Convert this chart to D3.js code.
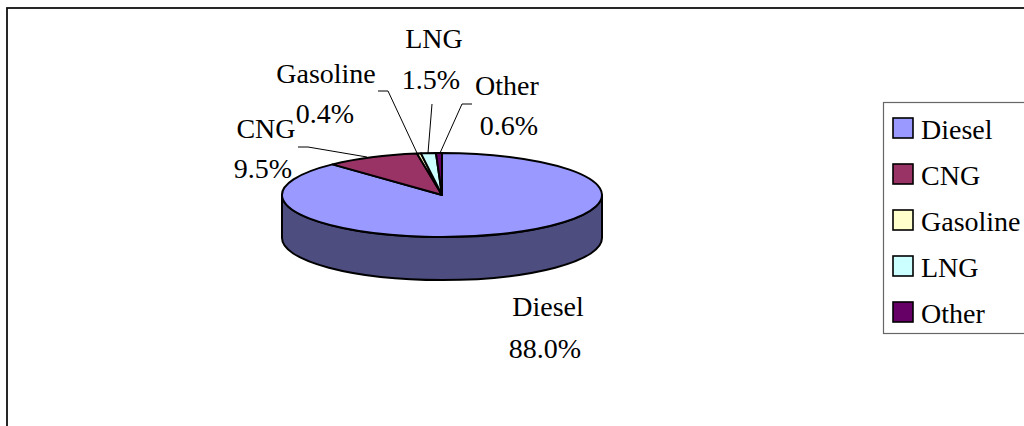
<!DOCTYPE html>
<html><head><meta charset="utf-8">
<script src="https://cdn.jsdelivr.net/npm/d3@7"></script>
<style>html,body{margin:0;padding:0;background:#fff}svg{display:block}text{font-family:"Liberation Serif";fill:#000}</style>
</head><body><svg id="c" width="1024" height="426"></svg>
<script>
const categories=["Diesel","CNG","Gasoline","LNG","Other"];
const values=[88.0,9.5,0.4,1.5,0.6];
const valueLabels=["88.0%","9.5%","0.4%","1.5%","0.6%"];
const colors=["#9999ff","#993366","#ffffcc","#ccffff","#660066"];
const sideColor="#4d4d80";
const W=1024,H=426,cx=442,cy=195,rx=160,ry=42,depth=43;
const svg=d3.select("#c");
svg.append("rect").attr("x",7).attr("y",8).attr("width",1030).attr("height",430).attr("fill","#fff").attr("stroke","#111").attr("stroke-width",1.8);
const X=d3.scaleLinear().domain([-1,1]).range([cx-rx,cx+rx]);
const Y=d3.scaleLinear().domain([-1,1]).range([cy-ry,cy+ry]);
const pie=d3.pie().sort(null).value(d=>d);
const arcs=pie(values);
const pt=(a,dy=0)=>[X(Math.sin(a)),Y(-Math.cos(a))+dy];
function sector(d){
  const p0=pt(d.startAngle),p1=pt(d.endAngle);
  const large=d.endAngle-d.startAngle>Math.PI?1:0;
  return `M${cx},${cy}L${p0}A${rx},${ry} 0 ${large} 1 ${p1}Z`;
}
const l=pt(-Math.PI/2),r=pt(Math.PI/2);
svg.append("path").attr("d",`M${r}A${rx},${ry} 0 0 1 ${l}L${l[0]},${l[1]+depth}A${rx},${ry} 0 0 0 ${r[0]},${r[1]+depth}Z`)
  .attr("fill",sideColor).attr("stroke","#000").attr("stroke-width",2);
svg.selectAll("path.s").data(arcs).join("path").attr("class","s").attr("d",sector)
  .attr("fill",(d,i)=>colors[i]).attr("stroke","#000").attr("stroke-width",2).attr("stroke-linejoin","round");
const fs=28;
const labelPos=[[548,316,545,358],[266,138,263,178],[326,83,325,123],[434,48,431,89],[507,95,509,135]];
const g=svg.append("g");
categories.forEach((c,i)=>{
  const [a,b,e,f]=labelPos[i];
  g.append("text").attr("x",a).attr("y",b).attr("text-anchor","middle").attr("font-size",fs).text(c);
  g.append("text").attr("x",e).attr("y",f).attr("text-anchor","middle").attr("font-size",fs).text(valueLabels[i]);
});
const leaders=[null,[[298,147],[308,147],[367,157]],[[378,91],[388,91],[417,153]],[[432,104],[428,153]],[[472,104],[462,104],[440,153]]];
const line=d3.line();
leaders.forEach(p=>{if(p)svg.append("path").attr("d",line(p)).attr("fill","none").attr("stroke","#000").attr("stroke-width",1);});
svg.append("rect").attr("x",883.5).attr("y",102.5).attr("width",160).attr("height",231).attr("fill","#fff").attr("stroke","#666").attr("stroke-width",1.2);
const ly=d3.scalePoint().domain(categories).range([128,312]);
categories.forEach((c,i)=>{
  svg.append("rect").attr("x",893).attr("y",ly(c)-10).attr("width",20).attr("height",20).attr("fill",colors[i]).attr("stroke","#000").attr("stroke-width",1.6);
  svg.append("text").attr("x",921).attr("y",ly(c)+11).attr("font-size",fs).text(c);
});
</script></body></html>
